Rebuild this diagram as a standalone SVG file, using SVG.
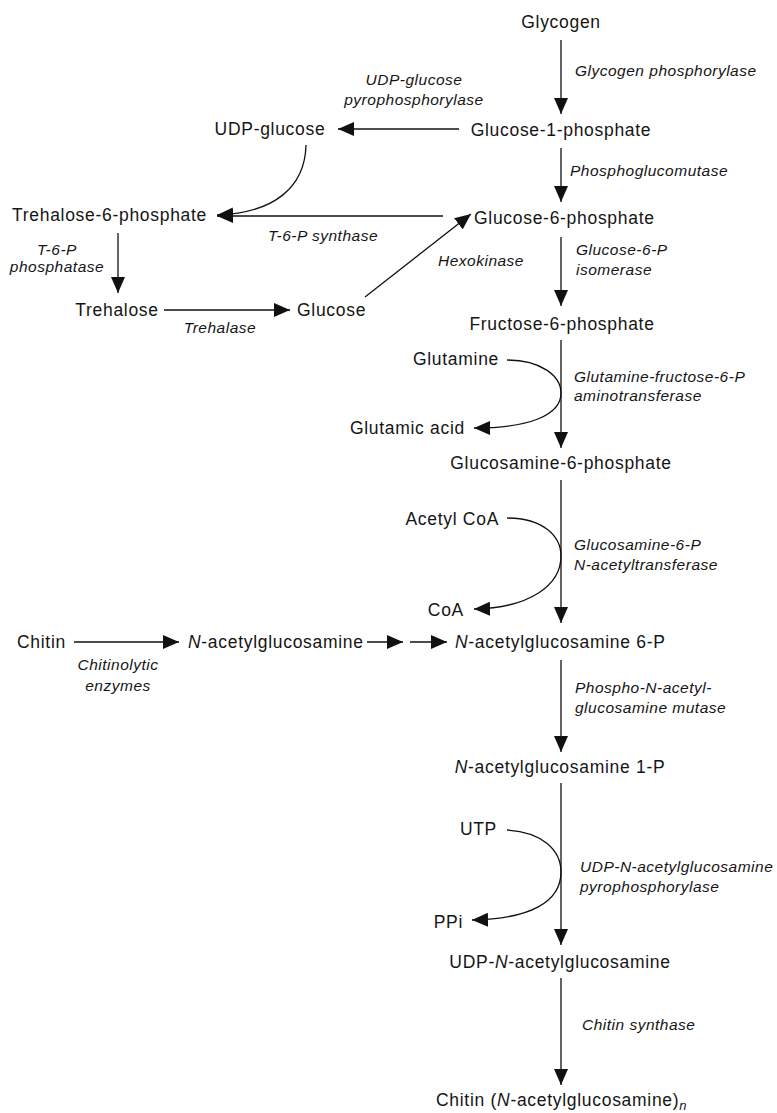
<svg xmlns="http://www.w3.org/2000/svg" width="777" height="1113" viewBox="0 0 777 1113">
<defs>
<marker id="ah" markerUnits="userSpaceOnUse" markerWidth="16" markerHeight="14" refX="16" refY="7" orient="auto">
<path d="M0,0 L16,7 L0,14 Z" fill="#111"/>
</marker>
<style>
.n{font-family:"Liberation Sans",Arial,sans-serif;font-size:17.5px;letter-spacing:0.7px;fill:#151515}
.e{font-family:"Liberation Sans",Arial,sans-serif;font-size:15.5px;font-style:italic;letter-spacing:0.5px;fill:#151515}
.i{font-style:italic}
.a{fill:none;stroke:#111;stroke-width:1.3;marker-end:url(#ah)}
.m{text-anchor:middle}
.r{text-anchor:end}
</style>
</defs>
<rect width="777" height="1113" fill="#fff"/>

<g id="connectors">
<path class="a" d="M561,40 V114"/>
<path class="a" d="M459,129 H338"/>
<path class="a" d="M561,148 V202"/>
<path class="a" d="M306,145 C305,186 276,213 217,215"/>
<path class="a" d="M443,216 H217"/>
<path class="a" d="M118,233 V293"/>
<path class="a" d="M164,310 H290"/>
<path class="a" d="M365,297 L471,214"/>
<path class="a" d="M561,237 V306"/>
<path class="a" d="M561,340 V448"/>
<path class="a" d="M507,360 C541,360 561,376 561,393 C561,415 530,428 474,428"/>
<path class="a" d="M561,480 V623"/>
<path class="a" d="M507,518 C543,518 561,536 561,556 C561,585 530,608 474,609"/>
<path class="a" d="M74,642 H179"/>
<path class="a" d="M367,642 H403"/>
<path class="a" d="M410,642 H447"/>
<path class="a" d="M561,660 V752"/>
<path class="a" d="M561,783 V945"/>
<path class="a" d="M507,830 C542,832 561,850 561,872 C561,902 530,919 472,920"/>
<path class="a" d="M561,978 V1085"/>
</g>

<g id="glycogen"><text class="n m" x="561" y="28">Glycogen</text></g>
<g id="e-glycogen-phosphorylase"><text class="e" x="575" y="76">Glycogen phosphorylase</text></g>
<g id="glucose-1-phosphate"><text class="n m" x="561" y="136">Glucose-1-phosphate</text></g>
<g id="udp-glucose"><text class="n m" x="270" y="135">UDP-glucose</text></g>
<g id="e-udp-glucose-pyrophosphorylase"><text class="e m" x="414" y="85">UDP-glucose</text><text class="e m" x="414" y="105">pyrophosphorylase</text></g>
<g id="e-phosphoglucomutase"><text class="e" x="570" y="176">Phosphoglucomutase</text></g>
<g id="trehalose-6-phosphate"><text class="n" x="12" y="221">Trehalose-6-phosphate</text></g>
<g id="glucose-6-phosphate"><text class="n" x="474" y="224">Glucose-6-phosphate</text></g>
<g id="e-t6p-synthase"><text class="e m" x="323" y="241">T-6-P synthase</text></g>
<g id="e-t6p-phosphatase"><text class="e m" x="57" y="255">T-6-P</text><text class="e m" x="57" y="272">phosphatase</text></g>
<g id="e-hexokinase"><text class="e m" x="481" y="266">Hexokinase</text></g>
<g id="e-g6p-isomerase"><text class="e" x="576" y="255">Glucose-6-P</text><text class="e" x="576" y="275">isomerase</text></g>
<g id="trehalose"><text class="n m" x="117" y="316">Trehalose</text></g>
<g id="glucose"><text class="n" x="297" y="316">Glucose</text></g>
<g id="e-trehalase"><text class="e m" x="220" y="333">Trehalase</text></g>
<g id="fructose-6-phosphate"><text class="n m" x="562" y="330">Fructose-6-phosphate</text></g>
<g id="glutamine"><text class="n r" x="499" y="365">Glutamine</text></g>
<g id="e-gfat"><text class="e" x="574" y="382">Glutamine-fructose-6-P</text><text class="e" x="574" y="401">aminotransferase</text></g>
<g id="glutamic-acid"><text class="n r" x="465" y="434">Glutamic acid</text></g>
<g id="glucosamine-6-phosphate"><text class="n m" x="561" y="469">Glucosamine-6-phosphate</text></g>
<g id="acetyl-coa"><text class="n r" x="499" y="525">Acetyl CoA</text></g>
<g id="e-gnat"><text class="e" x="574" y="550">Glucosamine-6-P</text><text class="e" x="574" y="570">N-acetyltransferase</text></g>
<g id="coa"><text class="n r" x="464" y="616">CoA</text></g>
<g id="chitin-source"><text class="n" x="17" y="648">Chitin</text></g>
<g id="e-chitinolytic"><text class="e m" x="118" y="670">Chitinolytic</text><text class="e m" x="118" y="691">enzymes</text></g>
<g id="n-acetylglucosamine"><text class="n" x="188" y="648"><tspan class="i">N</tspan>-acetylglucosamine</text></g>
<g id="n-acetylglucosamine-6-p"><text class="n" x="455" y="648"><tspan class="i">N</tspan>-acetylglucosamine 6-P</text></g>
<g id="e-mutase"><text class="e" x="575" y="693">Phospho-N-acetyl-</text><text class="e" x="575" y="713">glucosamine mutase</text></g>
<g id="n-acetylglucosamine-1-p"><text class="n m" x="560" y="773"><tspan class="i">N</tspan>-acetylglucosamine 1-P</text></g>
<g id="utp"><text class="n r" x="497" y="835">UTP</text></g>
<g id="e-uap"><text class="e" x="580" y="872">UDP-N-acetylglucosamine</text><text class="e" x="580" y="892">pyrophosphorylase</text></g>
<g id="ppi"><text class="n r" x="463" y="928">PPi</text></g>
<g id="udp-n-acetylglucosamine"><text class="n m" x="560" y="968">UDP-<tspan class="i">N</tspan>-acetylglucosamine</text></g>
<g id="e-chitin-synthase"><text class="e" x="582" y="1030">Chitin synthase</text></g>
<g id="chitin-product"><text class="n" x="436" y="1106">Chitin (<tspan class="i">N</tspan>-acetylglucosamine)<tspan class="i" font-size="13" dy="4">n</tspan></text></g>
</svg>
